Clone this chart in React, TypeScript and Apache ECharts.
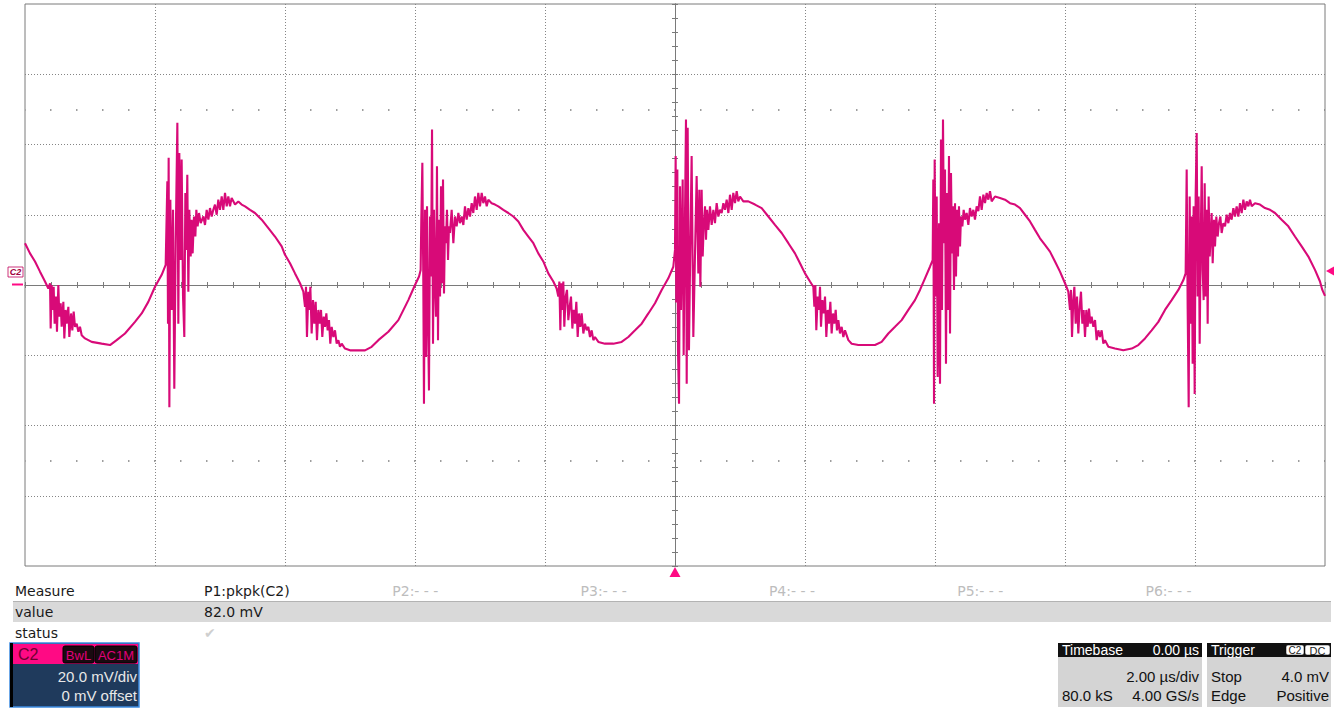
import React, { useEffect, useRef } from "react";
import * as echarts from "echarts";

// time in µs, voltage in mV (channel C2, 20 mV/div, 2 µs/div)
const cycleA: [number, number][] = [
  [-10.0, 11.9], [-9.923, 9.0], [-9.846, 6.7], [-9.769, 3.8], [-9.692, 1.0], [-9.641, -1.0],
  [-9.615, 0.5], [-9.605, -12.4], [-9.59, 0.0], [-9.574, -7.1], [-9.559, -0.5], [-9.544, -11.0],
  [-9.523, -3.3], [-9.508, -13.3], [-9.487, 0.0], [-9.472, -9.0], [-9.451, -5.2], [-9.436, -11.9],
  [-9.41, -4.8], [-9.395, -15.2], [-9.374, -7.1], [-9.359, -11.0], [-9.333, -6.2], [-9.318, -14.8],
  [-9.292, -8.1], [-9.272, -12.9], [-9.251, -7.6], [-9.231, -11.9], [-9.205, -11.0], [-9.179, -13.3],
  [-9.154, -11.9], [-9.128, -14.3], [-9.077, -15.2], [-8.974, -16.2], [-8.821, -16.7], [-8.692, -17.1],
  [-8.59, -15.7], [-8.462, -13.8], [-8.308, -10.5], [-8.205, -8.1], [-8.103, -4.8], [-8.0, -0.5],
  [-7.897, 2.9], [-7.836, 5.7],
  [-7.81, 29.5], [-7.8, -11.0], [-7.79, 36.2], [-7.779, -34.8], [-7.764, 24.3], [-7.744, -7.1],
  [-7.723, 21.4], [-7.703, -29.5], [-7.682, 11.9], [-7.656, 46.2], [-7.641, -11.0], [-7.626, 37.6],
  [-7.605, 7.1], [-7.59, 35.7], [-7.569, -3.3], [-7.549, -14.8], [-7.533, 26.2], [-7.518, 10.0],
  [-7.503, 31.4], [-7.487, -1.9], [-7.472, 21.4], [-7.451, 8.1], [-7.436, 18.6], [-7.421, 9.0],
  [-7.4, 19.5], [-7.379, 13.8], [-7.364, 21.4], [-7.344, 16.7], [-7.323, 20.5], [-7.297, 17.6],
  [-7.256, 19.5], [-7.231, 17.1], [-7.205, 21.4], [-7.179, 18.6], [-7.154, 21.9], [-7.128, 19.5],
  [-7.103, 21.4], [-7.077, 22.9], [-7.051, 20.0], [-7.026, 24.3], [-7.0, 21.4], [-6.974, 25.2],
  [-6.949, 21.4], [-6.923, 26.2], [-6.897, 22.4], [-6.872, 25.2], [-6.846, 22.4], [-6.821, 24.8],
  [-6.769, 22.9], [-6.718, 23.8], [-6.667, 22.9], [-6.615, 22.4], [-6.538, 21.4], [-6.462, 20.5],
  [-6.359, 18.6], [-6.256, 16.2], [-6.154, 13.8], [-6.051, 11.0], [-6.0, 8.6], [-5.923, 6.2],
  [-5.846, 3.3], [-5.769, 0.5], [-5.718, -1.9],
  [-5.692, -6.2], [-5.677, -0.5], [-5.662, -14.8], [-5.641, -1.9], [-5.626, -7.1], [-5.61, -0.5],
  [-5.59, -13.8], [-5.569, -4.3], [-5.549, -11.0], [-5.528, -4.8], [-5.508, -15.7], [-5.487, -7.1],
  [-5.467, -11.0], [-5.446, -7.1], [-5.426, -14.8], [-5.405, -9.0], [-5.385, -11.9], [-5.364, -8.1],
  [-5.344, -12.9], [-5.323, -10.0], [-5.303, -16.7], [-5.282, -11.9], [-5.256, -14.8], [-5.231, -12.9],
  [-5.205, -16.7], [-5.179, -15.7], [-5.154, -17.6], [-5.128, -16.7], [-5.077, -18.1], [-5.0, -18.6],
];

const cycleB: [number, number][] = [
  [-4.923, -18.6], [-4.769, -18.6], [-4.667, -17.6], [-4.564, -15.7], [-4.41, -13.3], [-4.256, -10.0],
  [-4.103, -4.3], [-4.0, 0.0], [-3.938, 2.4], [-3.913, 4.3],
  [-3.903, 18.6], [-3.887, 34.8], [-3.872, 0.5], [-3.862, -33.8], [-3.846, 21.4], [-3.831, -20.5],
  [-3.815, 22.4], [-3.8, -9.0], [-3.785, -30.0], [-3.769, 19.5], [-3.754, 2.4], [-3.738, 44.3],
  [-3.723, -16.7], [-3.708, 21.4], [-3.692, 0.5], [-3.677, -9.0], [-3.662, 33.8], [-3.646, -15.7],
  [-3.631, 18.6], [-3.615, -3.3], [-3.6, 28.1], [-3.585, 0.5], [-3.569, 30.0], [-3.554, -2.4],
  [-3.538, 16.7], [-3.523, 11.9], [-3.508, 21.4], [-3.492, 7.1], [-3.477, 16.7], [-3.462, 14.8],
  [-3.436, 21.4], [-3.41, 11.9], [-3.385, 19.5], [-3.359, 16.7], [-3.333, 20.5], [-3.308, 17.6],
  [-3.282, 19.5], [-3.256, 17.1], [-3.231, 22.4], [-3.205, 18.6], [-3.179, 21.9], [-3.154, 19.5],
  [-3.128, 23.3], [-3.103, 20.5], [-3.077, 25.2], [-3.051, 21.4], [-3.026, 26.2], [-3.0, 22.4],
  [-2.974, 26.2], [-2.949, 23.3], [-2.923, 25.2], [-2.897, 22.4], [-2.872, 24.3], [-2.821, 23.3],
  [-2.769, 22.9], [-2.718, 22.4], [-2.641, 21.4], [-2.564, 20.5], [-2.487, 19.5], [-2.41, 18.1],
  [-2.333, 15.7], [-2.256, 13.8], [-2.179, 11.9], [-2.103, 9.0], [-2.026, 6.7], [-1.949, 3.3],
  [-1.872, 1.0], [-1.821, -1.0],
  [-1.795, -3.3], [-1.779, 1.0], [-1.764, -12.9], [-1.749, 0.5], [-1.733, -7.1], [-1.718, 1.0],
  [-1.703, -11.9], [-1.682, -3.3], [-1.662, -1.4], [-1.641, -10.0], [-1.621, -6.2], [-1.6, -3.3],
  [-1.579, -12.4], [-1.559, -7.1], [-1.538, -11.0], [-1.518, -4.8], [-1.497, -14.8], [-1.477, -8.1],
  [-1.456, -11.9], [-1.436, -8.1], [-1.41, -13.8], [-1.385, -11.0], [-1.359, -12.9], [-1.333, -11.9],
  [-1.308, -14.8], [-1.282, -12.9], [-1.256, -15.7], [-1.231, -14.8], [-1.179, -16.2], [-1.077, -16.7],
  [-0.949, -16.7], [-0.821, -16.2], [-0.718, -14.8], [-0.615, -12.9], [-0.513, -11.0], [-0.41, -8.1],
  [-0.308, -5.2], [-0.205, -1.4], [-0.103, 1.9], [-0.026, 5.2],
];

const cycleC: [number, number][] = [
  [0.0, 10.0], [0.01, 36.7], [0.02, -5.0], [0.036, 32.9], [0.046, -18.6], [0.062, -33.8],
  [0.077, 28.1], [0.092, -7.1], [0.103, 8.0], [0.118, 30.0], [0.133, -20.0], [0.154, 20.0],
  [0.169, 47.1], [0.18, -28.1], [0.195, 44.8], [0.215, -18.6], [0.236, 11.9], [0.256, 36.7],
  [0.282, -14.8], [0.308, 9.0], [0.333, 31.0], [0.359, 3.3], [0.374, 27.1], [0.39, -0.5],
  [0.41, 27.1], [0.426, 8.1], [0.441, 16.7], [0.462, 22.4], [0.477, 12.9], [0.492, 21.4],
  [0.513, 15.7], [0.538, 22.4], [0.564, 17.1], [0.59, 21.4], [0.615, 17.6], [0.641, 23.3],
  [0.667, 19.5], [0.692, 21.4], [0.718, 20.5], [0.744, 23.3], [0.769, 21.4], [0.795, 24.3],
  [0.821, 20.5], [0.846, 25.7], [0.872, 21.4], [0.897, 26.2], [0.923, 23.3], [0.949, 26.7],
  [0.974, 23.8], [1.0, 25.2], [1.051, 23.8], [1.128, 23.8], [1.231, 22.9], [1.333, 21.9],
  [1.436, 19.5], [1.538, 17.1], [1.641, 14.8], [1.744, 11.9], [1.846, 9.0], [1.923, 6.2],
  [2.0, 3.3], [2.077, 1.0], [2.128, -0.5],
  [2.144, -6.2], [2.159, 0.0], [2.174, -12.9], [2.195, -3.3], [2.215, -7.1], [2.231, -0.5],
  [2.246, -11.9], [2.267, -4.3], [2.287, -8.1], [2.308, -3.3], [2.328, -14.8], [2.349, -7.1],
  [2.369, -11.0], [2.39, -4.8], [2.41, -13.8], [2.431, -8.1], [2.451, -11.0], [2.472, -7.1],
  [2.492, -12.9], [2.513, -10.0], [2.538, -13.8], [2.564, -11.9], [2.59, -14.8], [2.615, -12.9],
  [2.667, -15.7], [2.718, -16.7], [2.821, -17.1], [2.949, -17.1], [3.077, -17.1], [3.179, -16.2],
  [3.282, -13.8], [3.385, -11.9], [3.487, -10.0], [3.59, -7.1], [3.692, -4.3], [3.769, -1.4],
  [3.846, 1.9], [3.923, 5.2], [3.964, 7.1],
  [3.974, 30.0], [3.985, -33.8], [3.995, 35.7], [4.01, -3.3], [4.026, 25.2], [4.041, -26.2],
  [4.062, 17.6], [4.077, -28.1], [4.092, 41.4], [4.108, -7.1], [4.123, 47.1], [4.138, 11.9],
  [4.154, 32.9], [4.169, -22.4], [4.185, 26.2], [4.2, -7.1], [4.215, 36.7], [4.231, -13.8],
  [4.246, 31.9], [4.262, 9.0], [4.277, 22.4], [4.292, -1.4], [4.308, 23.3], [4.323, 2.4],
  [4.338, 21.4], [4.354, 8.1], [4.369, 22.4], [4.385, 11.0], [4.4, 19.5], [4.421, 16.7],
  [4.441, 21.4], [4.462, 18.6], [4.487, 20.5], [4.513, 17.1], [4.538, 21.9], [4.564, 19.5],
  [4.59, 21.4], [4.615, 18.6], [4.641, 22.4], [4.667, 21.0], [4.692, 25.2], [4.718, 21.4],
  [4.744, 25.7], [4.769, 23.3], [4.795, 26.2], [4.821, 24.3], [4.846, 26.7], [4.872, 23.8],
  [4.923, 25.2], [5.0, 24.8], [5.077, 24.3], [5.154, 23.3],
];

const cycleD: [number, number][] = [
  [5.231, 22.9], [5.308, 21.9], [5.385, 20.0], [5.462, 18.1], [5.538, 15.7], [5.615, 13.3],
  [5.692, 11.4], [5.769, 9.5], [5.846, 6.7], [5.923, 3.8], [6.0, 0.5], [6.051, -1.9],
  [6.077, -7.1], [6.092, -1.4], [6.108, -14.8], [6.128, -4.3], [6.144, -0.5], [6.164, -11.0],
  [6.185, -3.3], [6.205, -13.8], [6.226, -6.2], [6.246, -1.9], [6.267, -11.0], [6.287, -7.1],
  [6.308, -14.8], [6.328, -7.1], [6.349, -11.9], [6.369, -6.7], [6.39, -11.0], [6.41, -9.0],
  [6.436, -11.9], [6.462, -10.0], [6.487, -15.7], [6.513, -12.9], [6.538, -14.8], [6.564, -12.9],
  [6.59, -16.7], [6.615, -15.7], [6.667, -17.6], [6.769, -18.1], [6.897, -18.6], [7.026, -18.1],
  [7.128, -17.1], [7.231, -15.2], [7.333, -12.9], [7.436, -10.5], [7.538, -7.1], [7.641, -4.3],
  [7.744, -1.4], [7.821, 1.4], [7.856, 3.3],
  [7.872, 32.9], [7.887, -6.2], [7.903, -34.8], [7.918, 25.2], [7.933, -11.0], [7.949, 19.5],
  [7.964, -22.4], [7.979, 22.4], [7.995, -31.0], [8.01, 25.2], [8.026, 43.3], [8.041, -3.3],
  [8.056, 25.2], [8.072, -16.7], [8.087, 11.0], [8.103, 33.8], [8.118, 4.3], [8.133, -4.3],
  [8.149, 29.0], [8.164, -3.3], [8.179, 21.4], [8.195, -11.0], [8.21, 25.2], [8.226, 8.1],
  [8.241, 13.8], [8.256, 20.5], [8.272, 6.2], [8.292, 18.6], [8.308, 11.0], [8.328, 19.5],
  [8.349, 13.8], [8.369, 17.6], [8.39, 19.5], [8.41, 14.8], [8.436, 17.6], [8.462, 16.7],
  [8.487, 20.0], [8.513, 17.6], [8.538, 20.5], [8.564, 18.6], [8.59, 21.9], [8.615, 19.5],
  [8.641, 22.4], [8.667, 19.5], [8.692, 23.3], [8.718, 20.5], [8.744, 24.3], [8.769, 21.4],
  [8.795, 23.8], [8.821, 22.4], [8.846, 24.3], [8.872, 22.4], [8.923, 23.3], [9.0, 22.9],
  [9.077, 21.9], [9.154, 21.4], [9.231, 20.5], [9.333, 18.6], [9.436, 16.7], [9.538, 13.8],
  [9.641, 11.0], [9.744, 8.1], [9.846, 4.3], [9.923, 1.0], [9.959, -1.4], [10.0, -3.1],
];

const trace = [...cycleA, ...cycleB, ...cycleC, ...cycleD];

const timeRangeUs = [-10, 10];
const timeDivUs = 2;
const voltRangeMv = [-80, 80];
const voltDivMv = 20;
const dotRowsMv = [50, -50];
const triggerTimeUs = 0;
const triggerLevelMv = 4.0;

const measureSlots = ["P1:pkpk(C2)", "P2:- - -", "P3:- - -", "P4:- - -", "P5:- - -", "P6:- - -"];
const measureRowLabels = ["Measure", "value", "status"];
const measureValue = "82.0 mV";

const TRACE = "#d80a78";
const PINK = "#ff0a84";
const GRAY = "#7a7a7a";
const F_MEAS = '14px "DejaVu Sans"';
const F_BOX = '15px "Liberation Sans", Arial, sans-serif';
const F_HEAD = '14px "Liberation Sans", Arial, sans-serif';

function txt(text: string, x: number, y: number, fill: string, font: string, align = "left") {
  return {
    type: "text",
    x,
    y,
    silent: true,
    z: 100,
    style: {
      text,
      fill,
      font,
      align,
      textAlign: align,
      verticalAlign: "middle",
      textVerticalAlign: "middle",
    },
  };
}

function rect(x: number, y: number, w: number, h: number, style: any, r = 0) {
  return { type: "rect", silent: true, z: 90, shape: { x, y, width: w, height: h, r }, style };
}

function xAxisDef(position: string, main: boolean) {
  return {
    type: "value",
    min: timeRangeUs[0],
    max: timeRangeUs[1],
    interval: timeDivUs,
    position,
    axisLine: { show: true, onZero: true, lineStyle: { color: GRAY, width: 1 } },
    axisTick: { show: true, length: 3, inside: false, lineStyle: { color: GRAY, width: 1 } },
    minorTick: { show: true, splitNumber: 5, length: 3, lineStyle: { color: GRAY, width: 1 } },
    axisLabel: { show: false },
    splitLine: {
      show: main,
      showMinLine: false,
      showMaxLine: false,
      lineStyle: { color: "#858585", type: [1, 2], width: 1 },
    },
  };
}

function yAxisDef(position: string, main: boolean) {
  return {
    type: "value",
    min: voltRangeMv[0],
    max: voltRangeMv[1],
    interval: voltDivMv,
    position,
    axisLine: { show: true, onZero: true, lineStyle: { color: GRAY, width: 1 } },
    axisTick: { show: true, length: 3, inside: false, lineStyle: { color: GRAY, width: 1 } },
    minorTick: { show: true, splitNumber: 5, length: 3, lineStyle: { color: GRAY, width: 1 } },
    axisLabel: { show: false },
    splitLine: {
      show: main,
      showMinLine: false,
      showMaxLine: false,
      lineStyle: { color: "#858585", type: [1, 2], width: 1 },
    },
  };
}

export default function App() {
  const ref = useRef<HTMLDivElement>(null);

  useEffect(() => {
    if (!ref.current) return;
    const chart = echarts.init(ref.current, null, { renderer: "svg" });

    const graphic: any[] = [];
    // measurement table
    graphic.push(rect(13, 601, 1318, 21, { fill: "#d9d9d9" }));
    graphic.push({ type: "line", silent: true, z: 91, shape: { x1: 13, y1: 601.5, x2: 1331, y2: 601.5 }, style: { stroke: "#b3b3b3", lineWidth: 1 } });
    const rowY = [591, 612, 633];
    measureRowLabels.forEach((l, i) => graphic.push(txt(l, 15, rowY[i], "#1a1a1a", F_MEAS)));
    measureSlots.forEach((s, i) =>
      graphic.push(txt(s, 204 + i * 188.3, rowY[0], i === 0 ? "#1a1a1a" : "#bdbdbd", F_MEAS))
    );
    graphic.push(txt(measureValue, 204, rowY[1], "#1a1a1a", F_MEAS));
    graphic.push(txt("\u2714", 204, rowY[2], "#cfcfcf", F_MEAS));

    // C2 channel panel
    graphic.push(rect(10, 643, 129, 64, { fill: "#1f3a5c", stroke: "#3d8be0", lineWidth: 1.5 }));
    graphic.push(rect(10, 643, 3, 64, { fill: "#000" }));
    graphic.push(rect(13, 644, 125, 20, { fill: PINK }));
    graphic.push(txt("C2", 18, 654, "#6e0030", '16px "Liberation Sans", Arial, sans-serif'));
    graphic.push(rect(63, 646, 31, 17, { fill: "#1a0a10", stroke: "#000", lineWidth: 1 }, 2));
    graphic.push(rect(95, 646, 42, 17, { fill: "#1a0a10", stroke: "#000", lineWidth: 1 }, 2));
    graphic.push(txt("BwL", 78.5, 655, "#e0007a", '13px "Liberation Sans", Arial, sans-serif', "center"));
    graphic.push(txt("AC1M", 116, 655, "#e0007a", '13px "Liberation Sans", Arial, sans-serif', "center"));
    graphic.push(txt("20.0 mV/div", 137, 676, "#e8e8e8", F_BOX, "right"));
    graphic.push(txt("0 mV offset", 137, 695, "#e8e8e8", F_BOX, "right"));

    // Timebase panel
    graphic.push(rect(1058, 643, 144, 14, { fill: "#111" }));
    graphic.push(rect(1058, 657, 144, 50, { fill: "#d4d4d4" }));
    graphic.push(txt("Timebase", 1062, 650, "#fff", F_HEAD));
    graphic.push(txt("0.00 \u00b5s", 1199, 650, "#fff", F_HEAD, "right"));
    graphic.push(txt("2.00 \u00b5s/div", 1199, 676, "#111", F_BOX, "right"));
    graphic.push(txt("80.0 kS", 1062, 695, "#111", F_BOX));
    graphic.push(txt("4.00 GS/s", 1199, 695, "#111", F_BOX, "right"));

    // Trigger panel
    graphic.push(rect(1207, 643, 124, 14, { fill: "#111" }));
    graphic.push(rect(1207, 657, 124, 50, { fill: "#d4d4d4" }));
    graphic.push(txt("Trigger", 1211, 650, "#fff", F_HEAD));
    graphic.push(rect(1286, 645, 18, 10, { fill: "#fff", stroke: "#000", lineWidth: 0.5 }, 2));
    graphic.push(rect(1305, 645, 25, 10, { fill: "#fff", stroke: "#000", lineWidth: 0.5 }, 2));
    graphic.push(txt("C2", 1295, 650.5, "#222", '10px "Liberation Sans", Arial, sans-serif', "center"));
    graphic.push(txt("DC", 1317.5, 650.5, "#222", '11px "Liberation Sans", Arial, sans-serif', "center"));
    graphic.push(txt("Stop", 1211, 676, "#111", F_BOX));
    graphic.push(txt("4.0 mV", 1329, 676, "#111", F_BOX, "right"));
    graphic.push(txt("Edge", 1211, 695, "#111", F_BOX));
    graphic.push(txt("Positive", 1329, 695, "#111", F_BOX, "right"));

    // channel ground marker at left
    graphic.push(rect(8, 267, 15, 10, { fill: "#fff", stroke: "#c0005a", lineWidth: 0.8 }));
    graphic.push(txt("C2", 15.5, 272, "#a00040", 'italic bold 9px "Liberation Sans", Arial, sans-serif', "center"));
    graphic.push({ type: "line", silent: true, z: 91, shape: { x1: 12, y1: 284.5, x2: 23, y2: 284.5 }, style: { stroke: PINK, lineWidth: 2 } });

    chart.setOption({
      animation: false,
      backgroundColor: "#ffffff",
      grid: {
        left: 25,
        top: 4,
        width: 1300,
        height: 562,
        show: true,
        borderColor: GRAY,
        borderWidth: 1,
        backgroundColor: "transparent",
        containLabel: false,
        outerBoundsMode: "none",
      },
      xAxis: [xAxisDef("bottom", true), xAxisDef("top", false)],
      yAxis: [yAxisDef("left", true), yAxisDef("right", false)],
      series: [
        {
          type: "line",
          name: "C2",
          xAxisIndex: 0,
          yAxisIndex: 0,
          data: trace,
          symbol: "none",
          showSymbol: false,
          z: 5,
          lineStyle: { color: TRACE, width: 2.1 },
          markLine: {
            silent: true,
            symbol: ["none", "none"],
            label: { show: false },
            lineStyle: { color: "#7f7f7f", type: [1.5, 24.5], dashOffset: 0.75, width: 1.5 },
            data: dotRowsMv.map((v) => ({ yAxis: v })),
          },
          markPoint: {
            silent: true,
            label: { show: false },
            data: [
              {
                coord: [triggerTimeUs, voltRangeMv[0]],
                symbol: "triangle",
                symbolSize: [11, 10],
                symbolOffset: [0, 6],
                itemStyle: { color: PINK },
              },
              {
                coord: [timeRangeUs[1], triggerLevelMv],
                symbol: "triangle",
                symbolSize: [9, 8],
                symbolRotate: 90,
                symbolOffset: [5, 0],
                itemStyle: { color: PINK },
              },
            ],
          },
        },
      ],
      graphic,
    });

    return () => chart.dispose();
  }, []);

  return (
    <div
      ref={ref}
      style={{ position: "absolute", left: 0, top: 0, width: 1340, height: 708, background: "#fff" }}
    />
  );
}
